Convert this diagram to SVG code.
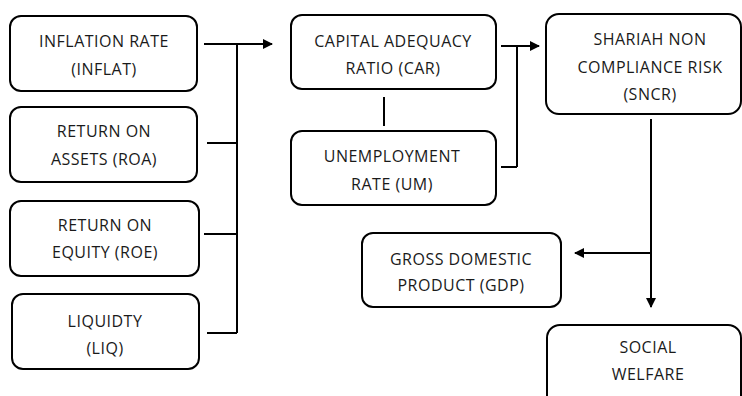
<svg xmlns="http://www.w3.org/2000/svg" width="742" height="396" viewBox="0 0 742 396">
<defs>
<style>
.box{fill:#fff;stroke:#000;stroke-width:2}
.t{font-family:"Open Sans","Liberation Sans",sans-serif;font-size:16px;letter-spacing:0.5px;fill:#1a1a1a;text-anchor:middle}
.ln{fill:none;stroke:#000;stroke-width:2}
</style>
<marker id="ah" markerWidth="10" markerHeight="10" refX="9" refY="5" orient="auto" markerUnits="userSpaceOnUse">
<path d="M0,0 L10,5 L0,10 z" fill="#000"/>
</marker>
</defs>
<rect width="742" height="396" fill="#fff"/>
<g id="connectors">
<path class="ln" d="M204,44 H272" marker-end="url(#ah)"/>
<path class="ln" d="M237,44 V333"/>
<path class="ln" d="M207,143 H237"/>
<path class="ln" d="M204,234 H237"/>
<path class="ln" d="M207,333 H237"/>
<path class="ln" d="M384,97 V126"/>
<path class="ln" d="M501,46 H539" marker-end="url(#ah)"/>
<path class="ln" d="M517,46 V167"/>
<path class="ln" d="M501,167 H517"/>
<path class="ln" d="M651,119 V307" marker-end="url(#ah)"/>
<path class="ln" d="M651,253 H575" marker-end="url(#ah)"/>
</g>
<g id="inflat"><rect class="box" x="10" y="16" width="187" height="75" rx="11"/>
<text class="t" x="104" y="47">INFLATION RATE</text><text class="t" x="104" y="75">(INFLAT)</text></g>
<g id="roa"><rect class="box" x="10" y="107" width="187" height="75" rx="11"/>
<text class="t" x="104" y="137">RETURN ON</text><text class="t" x="104" y="165">ASSETS (ROA)</text></g>
<g id="roe"><rect class="box" x="10" y="201" width="189" height="75" rx="11"/>
<text class="t" x="105" y="231">RETURN ON</text><text class="t" x="105" y="258">EQUITY (ROE)</text></g>
<g id="liq"><rect class="box" x="12" y="294" width="187" height="75" rx="11"/>
<text class="t" x="105" y="327">LIQUIDTY</text><text class="t" x="105" y="354">(LIQ)</text></g>
<g id="car"><rect class="box" x="291" y="15" width="205" height="74" rx="11"/>
<text class="t" x="393" y="47">CAPITAL ADEQUACY</text><text class="t" x="393" y="74">RATIO (CAR)</text></g>
<g id="um"><rect class="box" x="291" y="131" width="205" height="74" rx="11"/>
<text class="t" x="392" y="162">UNEMPLOYMENT</text><text class="t" x="392" y="190">RATE (UM)</text></g>
<g id="sncr"><rect class="box" x="546" y="14" width="195" height="100" rx="13"/>
<text class="t" x="650" y="45">SHARIAH NON</text><text class="t" x="650" y="73">COMPLIANCE RISK</text><text class="t" x="650" y="100">(SNCR)</text></g>
<g id="gdp"><rect class="box" x="362" y="233" width="199" height="74" rx="11"/>
<text class="t" x="461" y="265">GROSS DOMESTIC</text><text class="t" x="461" y="291">PRODUCT (GDP)</text></g>
<g id="welfare"><rect class="box" x="547" y="325" width="194" height="85" rx="13"/>
<text class="t" x="648" y="353">SOCIAL</text><text class="t" x="648" y="380">WELFARE</text></g>
</svg>
